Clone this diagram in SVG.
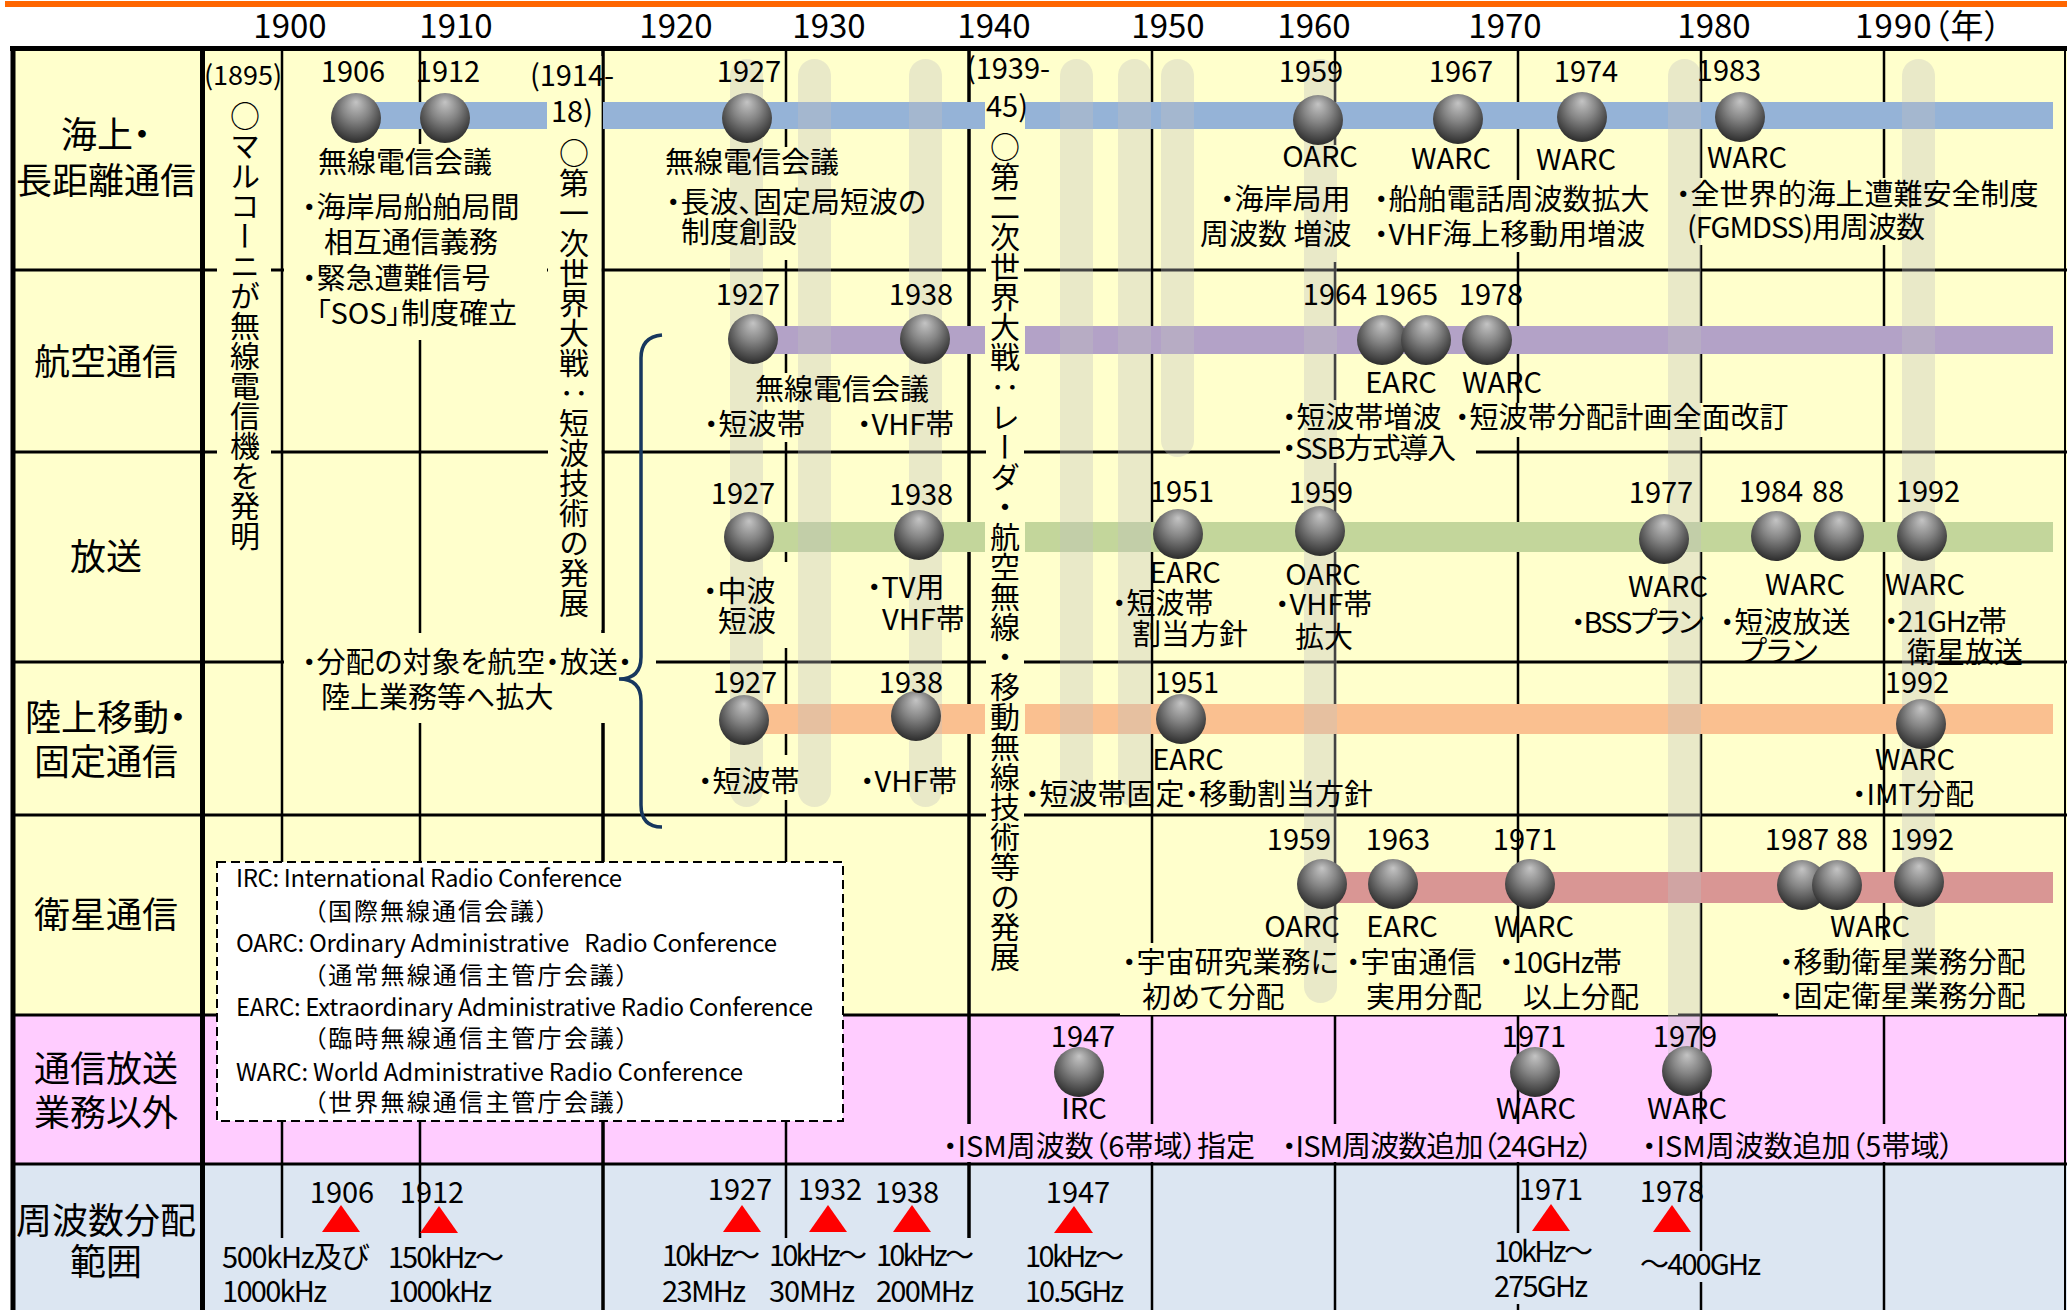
<svg xmlns="http://www.w3.org/2000/svg" xmlns:xlink="http://www.w3.org/1999/xlink" width="2067" height="1310" viewBox="0 0 2067 1310">
<style>
text{font-family:"Noto Sans CJK JP","Noto Sans CJK SC",sans-serif;font-feature-settings:"palt";fill:#000}
.hy{font-size:33px;text-anchor:middle}
.y{font-size:29px;text-anchor:middle}
.a{font-size:29px}
.m{font-size:29px;text-anchor:middle}
.rl{font-size:36px;text-anchor:middle}
.lg{font-size:24px}
.v{font-size:30px;writing-mode:vertical-rl;font-feature-settings:normal}
.col{fill:#BFBFBF;opacity:.35}
.by{fill:#FFFFCC}
.bp{fill:#FFCCFF}
.bb{fill:#DCE6F2}
.tri{fill:#FF0000}
</style>
<defs>
<radialGradient id="g" cx="50%" cy="38%" r="62%" fx="50%" fy="18%">
<stop offset="0" stop-color="#C4C4C4"/>
<stop offset="0.45" stop-color="#858585"/>
<stop offset="0.85" stop-color="#454545"/>
<stop offset="1" stop-color="#2C2C2C"/>
</radialGradient>
<circle id="ball" r="25" fill="url(#g)"/>
</defs>

<g id="background">
<rect x="0" y="0" width="2067" height="1310" fill="#FFFFFF"/>
<rect x="5" y="1" width="2062" height="6" fill="#FF6600"/>
<rect x="13" y="51" width="2054" height="964" fill="#FFFFCC"/>
<rect x="13" y="1015" width="2054" height="149" fill="#FFCCFF"/>
<rect x="13" y="1164" width="2054" height="146" fill="#DCE6F2"/>
</g>

<g id="grid" stroke="#000" fill="none">
<path d="M13 270H2067M13 452H2067M13 662H2067M13 815H2067M13 1015H2067M13 1164H2067" stroke-width="3"/>
<path d="M282 51V1310M420 51V1310M786 51V1310M1152 51V1310M1335 51V1310M1518 51V1310M1701 51V1310M1884 51V1310" stroke-width="2.5"/>
<path d="M603 51V1310M969 51V1310" stroke-width="3.5"/>
<path d="M2065 51V1310" stroke-width="2"/>
<path d="M10 48.5H2067M13 46V1310M202.5 46V1310" stroke-width="5"/>
</g>

<g id="header-years">
<text class="hy" x="290" y="38">1900</text>
<text class="hy" x="456" y="38">1910</text>
<text class="hy" x="676" y="38">1920</text>
<text class="hy" x="829" y="38">1930</text>
<text class="hy" x="994" y="38">1940</text>
<text class="hy" x="1168" y="38">1950</text>
<text class="hy" x="1314" y="38">1960</text>
<text class="hy" x="1505" y="38">1970</text>
<text class="hy" x="1714" y="38">1980</text>
<text x="1855" y="38" style="font-size:33px" textLength="146">1990（年）</text>
</g>

<g id="connectors">
<g id="bar-sea" fill="#95B3D7">
<rect x="356" y="102" width="191" height="27"/>
<rect x="603" y="102" width="382" height="27"/>
<rect x="1025" y="102" width="1028" height="27"/>
</g>
<g id="bar-air" fill="#B3A2C7">
<rect x="753" y="326" width="232" height="28"/>
<rect x="1025" y="326" width="1028" height="28"/>
</g>
<g id="bar-broadcast" fill="#C3D69B">
<rect x="749" y="522" width="236" height="30"/>
<rect x="1025" y="522" width="1028" height="30"/>
</g>
<g id="bar-land" fill="#FAC090">
<rect x="744" y="704" width="241" height="30"/>
<rect x="1025" y="704" width="1028" height="30"/>
</g>
<g id="bar-sat" fill="#D99694">
<rect x="1322" y="872" width="731" height="31"/>
</g>
</g>

<g id="text-boxes">
<rect class="by" x="217" y="56" width="54" height="494"/>
<rect class="by" x="284" y="144" width="263" height="196"/>
<rect class="by" x="548" y="56" width="53.5" height="574"/>
<rect class="by" x="986" y="56" width="38" height="924"/>
<rect class="by" x="662" y="147" width="278" height="113"/>
<rect class="by" x="702" y="373" width="256" height="69"/>
<rect class="by" x="284" y="633" width="372" height="90"/>
<rect class="by" x="700" y="562" width="262" height="86"/>
<rect class="by" x="696" y="755" width="266" height="45"/>
<rect class="by" x="1280" y="400" width="196" height="63"/>
<rect class="by" x="1453" y="403" width="347" height="34"/>
<rect class="by" x="1198" y="145" width="158" height="117"/>
<rect class="by" x="1372" y="180" width="283" height="72"/>
<rect class="by" x="1672" y="178" width="373" height="67"/>
<rect class="by" x="1120" y="943" width="558" height="72"/>
<rect class="by" x="1778" y="940" width="260" height="75"/>
<rect class="bp" x="943" y="1124" width="313" height="38"/>
<rect class="bp" x="1280" y="1124" width="317" height="38"/>
<rect class="bp" x="1640" y="1124" width="316" height="38"/>
<rect class="bb" x="220" y="1238" width="152" height="72"/>
<rect class="bb" x="386" y="1238" width="121" height="72"/>
<rect class="bb" x="767" y="1238" width="103" height="72"/>
<rect class="bb" x="873" y="1238" width="104" height="72"/>
<rect class="bb" x="1492" y="1233" width="105" height="71"/>
<rect class="bb" x="1638" y="1251" width="126" height="31"/>
</g>

<g id="era-columns">
<rect class="col" x="730" y="59" width="33" height="748" rx="16.5"/>
<rect class="col" x="798" y="59" width="33" height="748" rx="16.5"/>
<rect class="col" x="909" y="59" width="33" height="748" rx="16.5"/>
<rect class="col" x="1060" y="59" width="33" height="748" rx="16.5"/>
<rect class="col" x="1118" y="59" width="33" height="748" rx="16.5"/>
<rect class="col" x="1161" y="59" width="33" height="398" rx="16.5"/>
<rect class="col" x="1304" y="59" width="33" height="944" rx="16.5"/>
<rect class="col" x="1668" y="59" width="33" height="1018" rx="16.5"/>
<rect class="col" x="1902" y="59" width="33" height="938" rx="16.5"/>
</g>

<g id="brace">
<path d="M662 335Q641 337 641 358V657Q641 679 619 679Q641 679 641 701V805Q641 827 662 827" fill="none" stroke="#17375E" stroke-width="3.5"/>
</g>

<g id="row-labels">
<g id="label-sea"><text class="rl" x="106" y="148">海上・</text><text class="rl" x="106" y="194">長距離通信</text></g>
<g id="label-air"><text class="rl" x="106" y="375">航空通信</text></g>
<g id="label-broadcast"><text class="rl" x="106" y="570">放送</text></g>
<g id="label-land"><text class="rl" x="106" y="731">陸上移動・</text><text class="rl" x="106" y="775">固定通信</text></g>
<g id="label-sat"><text class="rl" x="106" y="928">衛星通信</text></g>
<g id="label-other"><text class="rl" x="106" y="1082">通信放送</text><text class="rl" x="106" y="1126">業務以外</text></g>
<g id="label-freq"><text class="rl" x="106" y="1234">周波数分配</text><text class="rl" x="106" y="1275">範囲</text></g>
</g>

<g id="events-history">
<g id="ev-1895"><text x="243" y="85" style="font-size:27px;text-anchor:middle">(1895)</text><text class="v" x="245" y="101">○マルコーニが無線電信機を発明</text></g>
<g id="ev-ww1"><text class="m" x="572" y="86">(1914-</text><text class="m" x="572" y="122">18)</text><text class="v" x="574" y="138">○第一次世界大戦：短波技術の発展</text></g>
<g id="ev-ww2"><text class="m" x="1008" y="79">(1939-</text><text class="m" x="1007" y="117">45)</text><text class="v" x="1005" y="132">○第二次世界大戦：レーダ・航空無線・移動無線技術等の発展</text></g>
<g id="ev-expand"><text class="a" x="302" y="673">・分配の対象を航空・放送・</text><text class="a" x="321" y="708">陸上業務等へ拡大</text></g>
</g>

<g id="row-sea">
<g id="sea-1906"><use href="#ball" x="356" y="118"/><text class="y" x="353" y="82">1906</text></g>
<g id="sea-1912"><use href="#ball" x="445" y="118"/><text class="y" x="448" y="82">1912</text>
<text class="a" x="318" y="173">無線電信会議</text>
<text class="a" x="302" y="218">・海岸局船舶局間</text>
<text class="a" x="324" y="253">相互通信義務</text>
<text class="a" x="302" y="289">・緊急遭難信号</text>
<text class="a" x="316" y="324">「SOS」制度確立</text></g>
<g id="sea-1927"><use href="#ball" x="747" y="118"/><text class="y" x="749" y="82">1927</text>
<text class="a" x="665" y="173">無線電信会議</text>
<text class="a" x="666" y="213">・長波、固定局短波の</text>
<text class="a" x="681" y="243">制度創設</text></g>
<g id="sea-1959"><use href="#ball" x="1318" y="120"/><text class="y" x="1311" y="82">1959</text>
<text class="m" x="1320" y="167">OARC</text>
<text class="a" x="1220" y="210">・海岸局用</text>
<text class="a" x="1200" y="245">周波数 増波</text></g>
<g id="sea-1967"><use href="#ball" x="1458" y="119"/><text class="y" x="1461" y="82">1967</text>
<text class="m" x="1451" y="169">WARC</text>
<text class="a" x="1374" y="210">・船舶電話周波数拡大</text>
<text class="a" x="1374" y="245">・VHF海上移動用増波</text></g>
<g id="sea-1974"><use href="#ball" x="1582" y="117"/><text class="y" x="1586" y="82">1974</text>
<text class="m" x="1576" y="170">WARC</text></g>
<g id="sea-1983"><use href="#ball" x="1740" y="117"/><text class="y" x="1729" y="81">1983</text>
<text class="m" x="1747" y="168">WARC</text>
<text class="a" x="1676" y="205">・全世界的海上遭難安全制度</text>
<text class="a" x="1687" y="238" textLength="238">(FGMDSS)用周波数</text></g>
</g>

<g id="row-air">
<g id="air-1927"><use href="#ball" x="753" y="339"/><text class="y" x="748" y="305">1927</text>
<text class="a" x="755" y="400">無線電信会議</text>
<text class="a" x="704" y="435">・短波帯</text></g>
<g id="air-1938"><use href="#ball" x="925" y="339"/><text class="y" x="921" y="305">1938</text>
<text class="a" x="857" y="435">・VHF帯</text></g>
<g id="air-1964"><use href="#ball" x="1382" y="340"/><text class="y" x="1335" y="305">1964</text></g>
<g id="air-1965"><use href="#ball" x="1426" y="340"/><text class="y" x="1406" y="305">1965</text>
<text class="m" x="1401" y="393">EARC</text>
<text class="a" x="1282" y="428">・短波帯増波</text>
<text class="a" x="1282" y="459" textLength="174">・SSB方式導入</text></g>
<g id="air-1978"><use href="#ball" x="1487" y="340"/><text class="y" x="1491" y="305">1978</text>
<text class="m" x="1502" y="393">WARC</text>
<text class="a" x="1455" y="428">・短波帯分配計画全面改訂</text></g>
</g>

<g id="row-broadcast">
<g id="bc-1927"><use href="#ball" x="749" y="537"/><text class="y" x="743" y="504">1927</text>
<text class="a" x="703" y="602">・中波</text><text class="a" x="718" y="632">短波</text></g>
<g id="bc-1938"><use href="#ball" x="919" y="535"/><text class="y" x="921" y="505">1938</text>
<text class="a" x="867" y="598">・TV用</text><text class="a" x="882" y="630">VHF帯</text></g>
<g id="bc-1951"><use href="#ball" x="1178" y="534"/><text class="y" x="1182" y="502">1951</text>
<text class="m" x="1185" y="583">EARC</text>
<text class="a" x="1112" y="614">・短波帯</text><text class="a" x="1132" y="645">割当方針</text></g>
<g id="bc-1959"><use href="#ball" x="1320" y="531"/><text class="y" x="1321" y="503">1959</text>
<text class="m" x="1323" y="585">OARC</text>
<text class="a" x="1275" y="615">・VHF帯</text><text class="a" x="1295" y="648">拡大</text></g>
<g id="bc-1977"><use href="#ball" x="1664" y="539"/><text class="y" x="1661" y="503">1977</text>
<text class="m" x="1668" y="597">WARC</text>
<text class="a" x="1571" y="633" textLength="133">・BSSプラン</text></g>
<g id="bc-1984"><use href="#ball" x="1776" y="536"/><text class="y" x="1771" y="502">1984</text></g>
<g id="bc-1988"><use href="#ball" x="1839" y="536"/><text class="y" x="1828" y="502">88</text>
<text class="m" x="1805" y="595">WARC</text>
<text class="a" x="1720" y="633">・短波放送</text><text class="a" x="1740" y="662">プラン</text></g>
<g id="bc-1992"><use href="#ball" x="1922" y="536"/><text class="y" x="1928" y="502">1992</text>
<text class="m" x="1925" y="595">WARC</text>
<text class="a" x="1884" y="632" textLength="123">・21GHz帯</text><text class="a" x="1907" y="663">衛星放送</text></g>
</g>

<g id="row-land">
<g id="land-1927"><use href="#ball" x="744" y="720"/><text class="y" x="745" y="693">1927</text>
<text class="a" x="698" y="792">・短波帯</text></g>
<g id="land-1938"><use href="#ball" x="916" y="716"/><text class="y" x="911" y="693">1938</text>
<text class="a" x="860" y="792">・VHF帯</text></g>
<g id="land-1951"><use href="#ball" x="1181" y="719"/><text class="y" x="1187" y="693">1951</text>
<text class="m" x="1188" y="770">EARC</text>
<text class="a" x="1025" y="805">・短波帯固定・移動割当方針</text></g>
<g id="land-1992"><use href="#ball" x="1921" y="724"/><text class="y" x="1917" y="693">1992</text>
<text class="m" x="1915" y="770">WARC</text>
<text class="a" x="1852" y="805">・IMT分配</text></g>
</g>

<g id="row-sat">
<g id="sat-1959"><use href="#ball" x="1322" y="884"/><text class="y" x="1299" y="850">1959</text>
<text class="m" x="1302" y="937">OARC</text>
<text class="a" x="1122" y="973">・宇宙研究業務に</text><text class="a" x="1142" y="1008">初めて分配</text></g>
<g id="sat-1963"><use href="#ball" x="1393" y="884"/><text class="y" x="1398" y="850">1963</text>
<text class="m" x="1402" y="937">EARC</text>
<text class="a" x="1346" y="973">・宇宙通信</text><text class="a" x="1366" y="1008">実用分配</text></g>
<g id="sat-1971"><use href="#ball" x="1530" y="884"/><text class="y" x="1525" y="850">1971</text>
<text class="m" x="1534" y="937">WARC</text>
<text class="a" x="1499" y="973" textLength="123">・10GHz帯</text><text class="a" x="1523" y="1008">以上分配</text></g>
<g id="sat-1987"><use href="#ball" x="1802" y="885"/><text class="y" x="1797" y="850">1987</text></g>
<g id="sat-1988"><use href="#ball" x="1837" y="885"/><text class="y" x="1852" y="850">88</text></g>
<g id="sat-1992"><use href="#ball" x="1919" y="882"/><text class="y" x="1922" y="850">1992</text>
<text class="m" x="1870" y="937">WARC</text>
<text class="a" x="1779" y="973">・移動衛星業務分配</text><text class="a" x="1779" y="1007">・固定衛星業務分配</text></g>
</g>

<g id="row-other">
<g id="ot-1947"><use href="#ball" x="1079" y="1072"/><text class="y" x="1083" y="1047">1947</text>
<text class="m" x="1084" y="1119">IRC</text>
<text class="a" x="943" y="1157">・ISM周波数（6帯域）指定</text></g>
<g id="ot-1971"><use href="#ball" x="1535" y="1072"/><text class="y" x="1534" y="1047">1971</text>
<text class="m" x="1536" y="1119">WARC</text>
<text class="a" x="1282" y="1157" textLength="311">・ISM周波数追加（24GHz）</text></g>
<g id="ot-1979"><use href="#ball" x="1687" y="1071"/><text class="y" x="1685" y="1047">1979</text>
<text class="m" x="1687" y="1119">WARC</text>
<text class="a" x="1642" y="1157">・ISM周波数追加（5帯域）</text></g>
</g>

<g id="row-freq">
<g id="fr-1906"><polygon class="tri" points="322,1232 341,1205 360,1232"/><text class="y" x="342" y="1203">1906</text>
<text class="a" x="222" y="1268" textLength="147">500kHz及び</text><text class="a" x="222" y="1302" textLength="105">1000kHz</text></g>
<g id="fr-1912"><polygon class="tri" points="420,1233 439,1206 458,1233"/><text class="y" x="432" y="1203">1912</text>
<text class="a" x="388" y="1268" textLength="116">150kHz〜</text><text class="a" x="388" y="1302" textLength="104">1000kHz</text></g>
<g id="fr-1927"><polygon class="tri" points="723,1232 742,1205 761,1232"/><text class="y" x="740" y="1200">1927</text>
<text class="a" x="662" y="1266" textLength="98">10kHz〜</text><text class="a" x="662" y="1302" textLength="84">23MHz</text></g>
<g id="fr-1932"><polygon class="tri" points="809,1232 828,1205 847,1232"/><text class="y" x="830" y="1200">1932</text>
<text class="a" x="769" y="1266" textLength="98">10kHz〜</text><text class="a" x="769" y="1302" textLength="86">30MHz</text></g>
<g id="fr-1938"><polygon class="tri" points="893,1232 912,1205 931,1232"/><text class="y" x="907" y="1203">1938</text>
<text class="a" x="876" y="1266" textLength="98">10kHz〜</text><text class="a" x="876" y="1302" textLength="98">200MHz</text></g>
<g id="fr-1947"><polygon class="tri" points="1054,1233 1074,1206 1093,1233"/><text class="y" x="1078" y="1203">1947</text>
<text class="a" x="1025" y="1267" textLength="99">10kHz〜</text><text class="a" x="1025" y="1302" textLength="99">10.5GHz</text></g>
<g id="fr-1971"><polygon class="tri" points="1532,1231 1551,1204 1570,1231"/><text class="y" x="1551" y="1200">1971</text>
<text class="a" x="1494" y="1262" textLength="99">10kHz〜</text><text class="a" x="1494" y="1297" textLength="94">275GHz</text></g>
<g id="fr-1978"><polygon class="tri" points="1653,1232 1672,1205 1691,1232"/><text class="y" x="1672" y="1202">1978</text>
<text class="a" x="1640" y="1275" textLength="121">〜400GHz</text></g>
</g>

<g id="legend">
<rect x="217" y="862" width="626" height="259" fill="#FFFFFF" stroke="#000" stroke-width="2" stroke-dasharray="9 5"/>
<text class="lg" x="236" y="887" textLength="386">IRC: International Radio Conference</text>
<text class="lg" x="314" y="920" textLength="234">（国際無線通信会議）</text>
<text class="lg" x="236" y="952" xml:space="preserve" textLength="541">OARC: Ordinary Administrative   Radio Conference</text>
<text class="lg" x="314" y="984" textLength="314">（通常無線通信主管庁会議）</text>
<text class="lg" x="236" y="1016" textLength="577">EARC: Extraordinary Administrative Radio Conference</text>
<text class="lg" x="314" y="1047" textLength="314">（臨時無線通信主管庁会議）</text>
<text class="lg" x="236" y="1081" textLength="507">WARC: World Administrative Radio Conference</text>
<text class="lg" x="314" y="1111" textLength="314">（世界無線通信主管庁会議）</text>
</g>
</svg>
